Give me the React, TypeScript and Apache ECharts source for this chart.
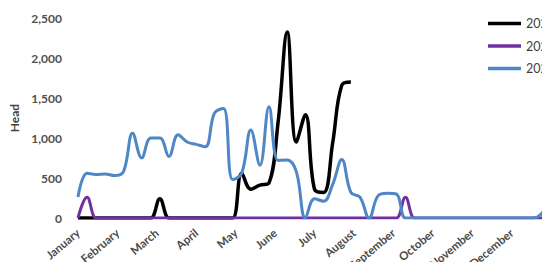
import React, { useEffect, useRef } from "react";
import * as echarts from "echarts";

const months = ["January", "February", "March", "April", "May", "June", "July", "August", "September", "October", "November", "December"];
const seriesNames = ["2023", "2022", "2021"];

// weekly values, week 0 .. 52
const black2023 = [0, 0, 0, 0, 0, 0, 0, 0, 0, 240, 0, 0, 0, 0, 0, 0, 0, 0, 560, 360, 410, 440, 1200, 2325, 950, 1290, 360, 320, 940, 1660, 1700];
const purple2022 = [0, 260, 0, 0, 0, 0, 0, 0, 0, 0, 0, 0, 0, 0, 0, 0, 0, 0, 0, 0, 0, 0, 0, 0, 0, 0, 0, 0, 0, 0, 0, 0, 0, 0, 0, 0, 260, 0, 0, 0, 0, 0, 0, 0, 0, 0, 0, 0, 0, 0, 0, 0, 0];
const blue2021 = [262, 560, 545, 550, 530, 580, 1060, 750, 1000, 1000, 770, 1040, 950, 920, 890, 1310, 1370, 480, 560, 1100, 660, 1390, 720, 725, 580, 0, 240, 210, 420, 730, 320, 260, 0, 280, 310, 300, 0, 0, 0, 0, 0, 0, 0, 0, 0, 0, 0, 0, 0, 0, 0, 60, 300];

const yTicks = [0, 500, 1000, 1500, 2000, 2500];

const colors = ["#000000", "#7030A0", "#4E86C6"];

export default function App() {
  const ref = useRef<HTMLDivElement>(null);
  useEffect(() => {
    if (!ref.current) return;
    const chart = echarts.init(ref.current, undefined, { renderer: "svg" });
    const toPairs = (arr: number[]) => arr.map((v, i) => [i, v]);
    const data = [black2023, purple2022, blue2021];
    const weeksPerMonth = 52 / 12;
    chart.setOption({
      animation: false,
      backgroundColor: "#ffffff",
      grid: { left: 78, top: 18, bottom: 44, right: 49, containLabel: false, outerBoundsMode: "none" },
      legend: {
        orient: "vertical",
        left: 488,
        top: 17,
        padding: 0,
        icon: "rect",
        itemWidth: 33,
        itemHeight: 3.5,
        itemGap: 9.5,
        data: seriesNames,
        textStyle: { fontFamily: "Lato", fontSize: 12.5, color: "#404040" },
      },
      xAxis: {
        type: "value",
        min: 0,
        max: 52,
        interval: weeksPerMonth,
        axisLine: { show: false },
        axisTick: { show: false },
        splitLine: { show: false },
        axisLabel: {
          rotate: 40,
          margin: 13,
          fontFamily: "Lato",
          fontSize: 11.5,
          fontWeight: "bold",
          color: "#4a4a4a",
          showMaxLabel: false,
          formatter: (v: number) => {
            const idx = Math.round(v / weeksPerMonth);
            return months[idx] ?? "";
          },
        },
      },
      yAxis: {
        type: "value",
        min: yTicks[0],
        max: yTicks[yTicks.length - 1],
        interval: 500,
        name: "Head",
        nameLocation: "middle",
        nameGap: 58,
        nameTextStyle: { fontFamily: "Lato", fontSize: 12, fontWeight: "bold", color: "#404040" },
        axisLine: { show: false },
        axisTick: { show: false },
        splitLine: { show: false },
        axisLabel: {
          margin: 16,
          fontFamily: "Lato",
          fontSize: 12,
          fontWeight: "bold",
          color: "#505050",
          formatter: (v: number) => v.toLocaleString("en-US"),
        },
      },
      series: seriesNames.map((name, i) => ({
        name,
        type: "line",
        data: toPairs(data[i]),
        smooth: 0.4,
        symbol: "none",
        lineStyle: { color: colors[i], width: i === 0 ? 3.5 : 3 },
        itemStyle: { color: colors[i] },
        z: 2 + i,
      })),
    });
    return () => chart.dispose();
  }, []);
  return (
    <div style={{ position: "fixed", left: 0, top: 0, width: 542, height: 262, overflow: "hidden", background: "#fff" }}>
      <div ref={ref} style={{ width: 600, height: 262 }} />
    </div>
  );
}
